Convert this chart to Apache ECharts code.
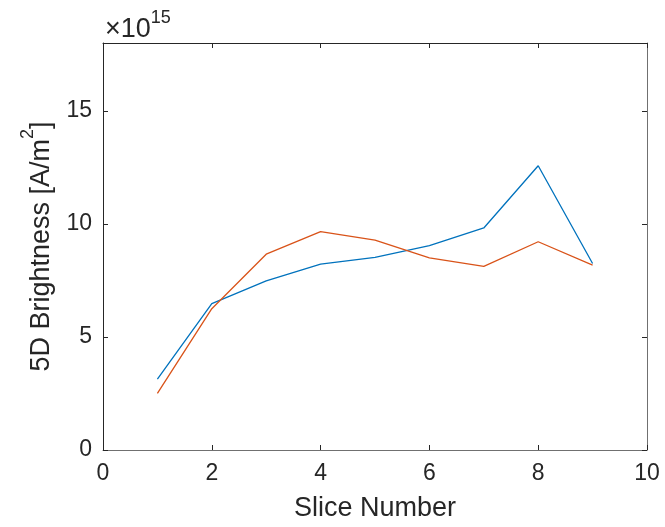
<!DOCTYPE html>
<html>
<head>
<meta charset="utf-8">
<script src="https://cdn.jsdelivr.net/npm/echarts@6/dist/echarts.min.js"></script>
<style>
  html, body { margin: 0; padding: 0; background: #fff; }
  #chart { width: 665px; height: 527px; }
</style>
</head>
<body>
<div id="chart"></div>
<script>
// Brightness per slice, two measurement runs
const slices = [1, 2, 3, 4, 5, 6, 7, 8, 9];
const runA = [3.13e15, 6.47e15, 7.48e15, 8.22e15, 8.52e15, 9.04e15, 9.82e15, 12.57e15, 8.25e15];
const runB = [2.50e15, 6.25e15, 8.66e15, 9.66e15, 9.28e15, 8.50e15, 8.12e15, 9.21e15, 8.18e15];
const xTicks = [0, 2, 4, 6, 8, 10];
const yTicks = [0, 5, 10, 15];
const yScale = 1e15;

const FONT = 'Liberation Sans, Arial, Helvetica, sans-serif';
const AXIS_DARK = '#262626';
const AXIS_GRAY = '#707070';

const chart = echarts.init(document.getElementById('chart'), null, { renderer: 'canvas' });

const pairs = (ys) => slices.map((x, i) => [x, ys[i]]);

const baseX = {
  type: 'value', min: 0, max: 10, interval: 2,
  splitLine: { show: false }
};
const baseY = {
  type: 'value', min: 0, max: 18 * yScale, interval: 5 * yScale,
  splitLine: { show: false }
};
const tick = { inside: true, length: 5, lineStyle: { color: AXIS_DARK, width: 1 } };

chart.setOption({
  animation: false,
  backgroundColor: '#ffffff',
  grid: { left: 103, right: 18, top: 43, bottom: 74, containLabel: false },
  xAxis: [
    Object.assign({}, baseX, {
      position: 'bottom',
      name: 'Slice Number',
      nameLocation: 'middle',
      nameGap: 45,
      nameTextStyle: { fontFamily: FONT, fontSize: 27, color: AXIS_DARK },
      axisLine: { onZero: false, lineStyle: { color: AXIS_GRAY, width: 1 } },
      axisTick: tick,
      axisLabel: {
        margin: 12, fontFamily: FONT, fontSize: 23, color: AXIS_DARK,
        formatter: (v) => (xTicks.includes(v) ? String(v) : '')
      }
    }),
    Object.assign({}, baseX, {
      position: 'top',
      axisLine: { onZero: false, lineStyle: { color: AXIS_DARK, width: 1 } },
      axisTick: tick,
      axisLabel: { show: false }
    })
  ],
  yAxis: [
    Object.assign({}, baseY, {
      position: 'left',
      name: '{t|5D Brightness [A/m}{s|2}{t|]}',
      nameLocation: 'middle',
      nameGap: 44,
      nameRotate: 90,
      nameTextStyle: {
        fontFamily: FONT, color: AXIS_DARK,
        rich: {
          t: { fontFamily: FONT, fontSize: 27, color: AXIS_DARK, verticalAlign: 'bottom', lineHeight: 36 },
          s: { fontFamily: FONT, fontSize: 18, color: AXIS_DARK, verticalAlign: 'top', lineHeight: 36, padding: [0, 0, 8, 0] }
        }
      },
      axisLine: { onZero: false, lineStyle: { color: AXIS_DARK, width: 1 } },
      axisTick: tick,
      axisLabel: {
        margin: 11, fontFamily: FONT, fontSize: 23, color: AXIS_DARK,
        formatter: (v) => {
          const t = Math.round(v / yScale);
          return yTicks.includes(t) ? String(t) : '';
        }
      }
    }),
    Object.assign({}, baseY, {
      position: 'right',
      axisLine: { onZero: false, lineStyle: { color: AXIS_GRAY, width: 1 } },
      axisTick: tick,
      axisLabel: { show: false }
    })
  ],
  graphic: [
    {
      type: 'text', left: 105, top: 9,
      style: {
        text: '{t|×10}{s|15}',
        rich: {
          t: { fontFamily: FONT, fontSize: 27, fill: AXIS_DARK, verticalAlign: 'bottom', lineHeight: 34 },
          s: { fontFamily: FONT, fontSize: 18, fill: AXIS_DARK, verticalAlign: 'top', lineHeight: 34, padding: [0, 0, 12, 0] }
        }
      }
    }
  ],
  series: [
    {
      type: 'line', name: 'Run A', data: pairs(runA),
      xAxisIndex: 0, yAxisIndex: 0,
      showSymbol: false, symbol: 'none',
      lineStyle: { color: '#0072BD', width: 1.3 }
    },
    {
      type: 'line', name: 'Run B', data: pairs(runB),
      xAxisIndex: 0, yAxisIndex: 0,
      showSymbol: false, symbol: 'none',
      lineStyle: { color: '#D95319', width: 1.3 }
    }
  ]
});
</script>
</body>
</html>
